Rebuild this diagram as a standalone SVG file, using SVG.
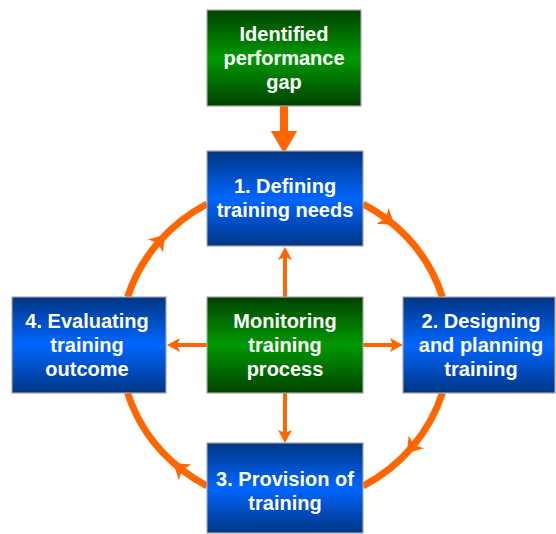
<svg xmlns="http://www.w3.org/2000/svg" width="556" height="534" viewBox="0 0 556 534">
  <defs>
    <linearGradient id="gBlue" x1="0" y1="0" x2="0" y2="1">
      <stop offset="0" stop-color="#003584"/>
      <stop offset="0.5" stop-color="#0066FF"/>
      <stop offset="1" stop-color="#003584"/>
    </linearGradient>
    <linearGradient id="gGreen" x1="0" y1="0" x2="0" y2="1">
      <stop offset="0" stop-color="#004200"/>
      <stop offset="0.5" stop-color="#009900"/>
      <stop offset="1" stop-color="#004200"/>
    </linearGradient>
    <marker id="ringHead" markerUnits="userSpaceOnUse" markerWidth="30" markerHeight="30" viewBox="-15 -15 30 30" refX="0" refY="0" orient="auto" overflow="visible">
      <path d="M10,0 L-5,-10 L-1,0 L-5,10 Z" fill="#FF6600"/>
    </marker>
    <marker id="thinHead" markerUnits="userSpaceOnUse" markerWidth="20" markerHeight="20" viewBox="-5 -10 20 20" refX="0" refY="0" orient="auto" overflow="visible">
      <path d="M-3,-7 L10,0 L-3,7 L0,0 Z" fill="#FF6600"/>
    </marker>
    <marker id="thickHead" markerUnits="userSpaceOnUse" markerWidth="30" markerHeight="30" viewBox="-2 -12 24 24" refX="0" refY="0" orient="auto" overflow="visible">
      <path d="M0,-10.5 L18,0 L0,10.5 Z" fill="#FF6600"/>
    </marker>
  </defs>
  <style>
    .box { stroke: #A6A6A6; stroke-width: 1.2; }
    .blue { fill: url(#gBlue); }
    .green { fill: url(#gGreen); }
    .lbl { font-family: "Liberation Sans", Arial, sans-serif; font-weight: bold; font-size: 20px; fill: #FFFFFF; text-anchor: middle; }
    .ring { fill: none; stroke: #FF6600; stroke-width: 7; marker-mid: url(#ringHead); }
    .thin { fill: none; stroke: #FF6600; stroke-width: 4; marker-end: url(#thinHead); }
    .thick { fill: none; stroke: #FF6600; stroke-width: 8; marker-end: url(#thickHead); }
  </style>

  <g id="connectors">
    <path class="ring" d="M127.6,297 A165,160 0 0 1 158.6,242.2 A165,160 0 0 1 207,204"/>
    <path class="ring" d="M363,204 A165,160 0 0 1 386.6,218.9 A165,160 0 0 1 442.4,297"/>
    <path class="ring" d="M442.4,393 A165,160 0 0 1 413.2,445.7 A165,160 0 0 1 363,486"/>
    <path class="ring" d="M207,486 A165,160 0 0 1 181.2,469.3 A165,160 0 0 1 127.6,393"/>
    <path class="thick" d="M284,106 L284,131"/>
    <path class="thin" d="M285,297 L285,257"/>
    <path class="thin" d="M207,345 L177,345"/>
    <path class="thin" d="M363,345 L393,345"/>
    <path class="thin" d="M285,393 L285,433"/>
  </g>

  <g id="gap">
    <rect class="box green" x="207" y="10" width="154" height="96"/>
    <text class="lbl" x="284" y="41">Identified</text>
    <text class="lbl" x="284" y="65">performance</text>
    <text class="lbl" x="284" y="89">gap</text>
  </g>

  <g id="step1">
    <rect class="box blue" x="207" y="151" width="156" height="95"/>
    <text class="lbl" x="285" y="193">1. Defining</text>
    <text class="lbl" x="285" y="217">training needs</text>
  </g>

  <g id="monitor">
    <rect class="box green" x="207" y="297" width="156" height="96"/>
    <text class="lbl" x="285" y="328">Monitoring</text>
    <text class="lbl" x="285" y="352">training</text>
    <text class="lbl" x="285" y="376">process</text>
  </g>

  <g id="step4">
    <rect class="box blue" x="12" y="297" width="154" height="96"/>
    <text class="lbl" x="87" y="328">4. Evaluating</text>
    <text class="lbl" x="87" y="352">training</text>
    <text class="lbl" x="87" y="376">outcome</text>
  </g>

  <g id="step2">
    <rect class="box blue" x="403" y="297" width="152" height="96"/>
    <text class="lbl" x="481" y="328">2. Designing</text>
    <text class="lbl" x="481" y="352">and planning</text>
    <text class="lbl" x="481" y="376">training</text>
  </g>

  <g id="step3">
    <rect class="box blue" x="207" y="443" width="156" height="90"/>
    <text class="lbl" x="285" y="486">3. Provision of</text>
    <text class="lbl" x="285" y="510">training</text>
  </g>
</svg>
